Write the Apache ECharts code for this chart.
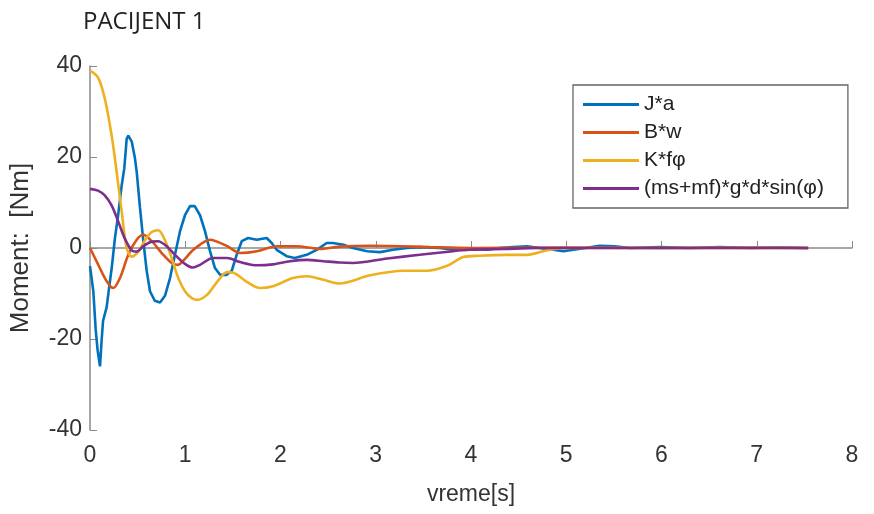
<!DOCTYPE html>
<html>
<head>
<meta charset="utf-8">
<script src="https://cdn.jsdelivr.net/npm/echarts@6/dist/echarts.min.js"></script>
<style>html,body{margin:0;padding:0;background:#fff}#c{width:874px;height:514px}</style>
</head>
<body>
<div id="c"></div>
<script>
var titleText = 'PACIJENT 1';
var xName = 'vreme[s]';
var yName = 'Moment:  [Nm]';
var seriesNames = ['J*a', 'B*w', 'K*fφ', '(ms+mf)*g*d*sin(φ)'];
var seriesColors = ['#0072BD', '#D95319', '#EDB120', '#7E2F8E'];
var xTicks = [0, 1, 2, 3, 4, 5, 6, 7, 8];
var yTicks = [-40, -20, 0, 20, 40];

var jaT = [0,0.035,0.06,0.08,0.105,0.123,0.137,0.175,0.2,0.228,0.262,0.294,0.333,0.36,0.385,0.402,0.438,0.472,0.49,0.525,0.56,0.595,0.63,0.68,0.735,0.787,0.84,0.892,0.945,0.997,1.05,1.1,1.155,1.207,1.26,1.312,1.365,1.435,1.488,1.54,1.593,1.66,1.75,1.855,1.908,1.96,2.065,2.15,2.275,2.38,2.485,2.55,2.66,2.76,2.91,3.045,3.18,3.33,3.46,3.67,3.81,4.02,4.17,4.3,4.44,4.59,4.72,4.86,4.97,5.04,5.2,5.35,5.51,5.67,5.98,6.3,6.61,6.93,7.24,7.54];
var jaV = [-4,-9.5,-18,-22.5,-26,-20,-16,-13,-8.8,-4.4,2.2,7,13.8,17.5,24,24.7,23.4,19.7,16.8,8.8,1.5,-5,-9.5,-11.6,-12,-10.5,-6.6,-1.5,3.7,7.2,9.2,9.2,7.2,3.7,-0.7,-4.4,-5.9,-5.9,-5,-1.5,1.5,2.2,1.8,2.2,1.1,-0.4,-1.8,-2.2,-1.5,-0.4,1.1,1.1,0.7,0,-0.7,-0.9,-0.4,0,0.2,0,-0.4,-0.2,-0.4,0,0.2,0.4,0,-0.4,-0.7,-0.5,0,0.5,0.4,0,0.2,0,0.2,0,0.1,0];

var bwT = [0,0.087,0.175,0.245,0.315,0.402,0.49,0.56,0.648,0.753,0.858,0.924,0.997,1.085,1.26,1.44,1.575,1.753,1.963,2.17,2.41,2.62,2.94,3.25,3.57,3.99,5.0,6.0,7.0,7.54];
var bwV = [0,-3.7,-7.3,-8.8,-6.6,-1.5,1.8,2.9,1.5,-1.1,-3.3,-3.7,-2.4,-0.4,1.8,0.4,-1.1,-0.7,0.4,0.4,-0.2,0.3,0.5,0.4,0.2,0,0.1,0,0.1,0];

var kfT = [0,0.084,0.157,0.228,0.28,0.333,0.385,0.437,0.507,0.577,0.648,0.717,0.787,0.857,0.927,0.997,1.067,1.123,1.228,1.333,1.44,1.5,1.65,1.785,1.92,2.13,2.28,2.45,2.62,2.94,3.29,3.54,3.75,3.92,4.09,4.38,4.59,4.8,5.01,6.0,7.0,7.54];
var kfV = [39,37.5,32.7,24.6,16.7,8,0,-1.9,-0.8,1.7,3.5,3.9,1.7,-2.2,-6.6,-9.5,-11,-11.4,-10.3,-7.5,-5.3,-5.4,-7.5,-8.8,-8.4,-6.6,-6.2,-7,-7.8,-6,-5,-5,-3.9,-2,-1.7,-1.5,-1.5,-0.5,0,0,0,0];

var msT = [0,0.084,0.157,0.228,0.297,0.367,0.438,0.49,0.56,0.648,0.714,0.805,0.892,0.997,1.08,1.155,1.29,1.44,1.575,1.753,1.92,2.1,2.28,2.45,2.62,2.76,3.12,3.46,3.81,3.99,4.34,4.72,6.0,7.54];
var msV = [13,12.6,11.5,9.3,5.8,2,-0.5,-0.8,0.4,1.4,1.5,0.4,-1.5,-3.5,-4.3,-3.7,-2.2,-2.2,-3.1,-3.8,-3.6,-2.9,-2.6,-2.9,-3.2,-3.3,-2.3,-1.5,-0.7,-0.4,-0.2,0,0,0];

function pairs(t, v) { return t.map(function (x, i) { return [x, v[i]]; }); }
var allT = [jaT, bwT, kfT, msT];
var allV = [jaV, bwV, kfV, msV];

var chart = echarts.init(document.getElementById('c'), null, { renderer: 'canvas' });
var axisGray = '#8a8a8a';
var tickFont = { fontFamily: 'Liberation Sans', fontSize: 23, color: '#333' };

chart.setOption({
  animation: false,
  backgroundColor: '#fff',
  title: {
    text: titleText, left: 78, top: 5,
    textStyle: { fontFamily: 'Open Sans', fontSize: 24, fontWeight: 'normal', color: '#222' }
  },
  grid: { left: 90, right: 22, top: 66, bottom: 84, containLabel: false },
  legend: {
    orient: 'vertical', left: 573, top: 85,
    data: seriesNames,
    icon: 'rect', itemWidth: 56, itemHeight: 3, itemGap: 7,
    borderColor: '#666', borderWidth: 1.3, borderRadius: 0,
    padding: [9, 24, 9, 10],
    backgroundColor: '#fff',
    textStyle: { fontFamily: 'Liberation Sans', fontSize: 21, lineHeight: 21, color: '#222' }
  },
  xAxis: {
    type: 'value', min: 0, max: 8, interval: 1,
    name: xName, nameLocation: 'middle', nameGap: 53,
    nameTextStyle: { fontFamily: 'Liberation Sans', fontSize: 23, color: '#333' },
    axisLine: { show: true, lineStyle: { color: axisGray, width: 1.5 } },
    axisTick: { show: true, inside: true, length: 7, lineStyle: { color: axisGray } },
    axisLabel: Object.assign({ margin: 14, formatter: function (v) { return xTicks.indexOf(v) >= 0 ? String(v) : ''; } }, tickFont),
    splitLine: { show: false }
  },
  yAxis: {
    type: 'value', min: -40, max: 40, interval: 20,
    name: yName, nameLocation: 'middle', nameGap: 56, nameRotate: 90,
    nameTextStyle: { fontFamily: 'Liberation Sans', fontSize: 26, color: '#333' },
    axisLine: { show: true, lineStyle: { color: axisGray, width: 1.5 } },
    axisTick: { show: true, inside: true, length: 7, lineStyle: { color: axisGray } },
    axisLabel: Object.assign({ margin: 8, formatter: function (v) { return yTicks.indexOf(v) >= 0 ? String(v) : ''; } }, tickFont),
    splitLine: { show: false }
  },
  series: seriesNames.map(function (n, i) {
    return {
      name: n, type: 'line', symbol: 'none', smooth: i === 0 ? false : 0.3,
      data: pairs(allT[i], allV[i]),
      lineStyle: { color: seriesColors[i], width: 2.6 },
      itemStyle: { color: seriesColors[i] },
      z: 2 + i
    };
  })
});
</script>
</body>
</html>
